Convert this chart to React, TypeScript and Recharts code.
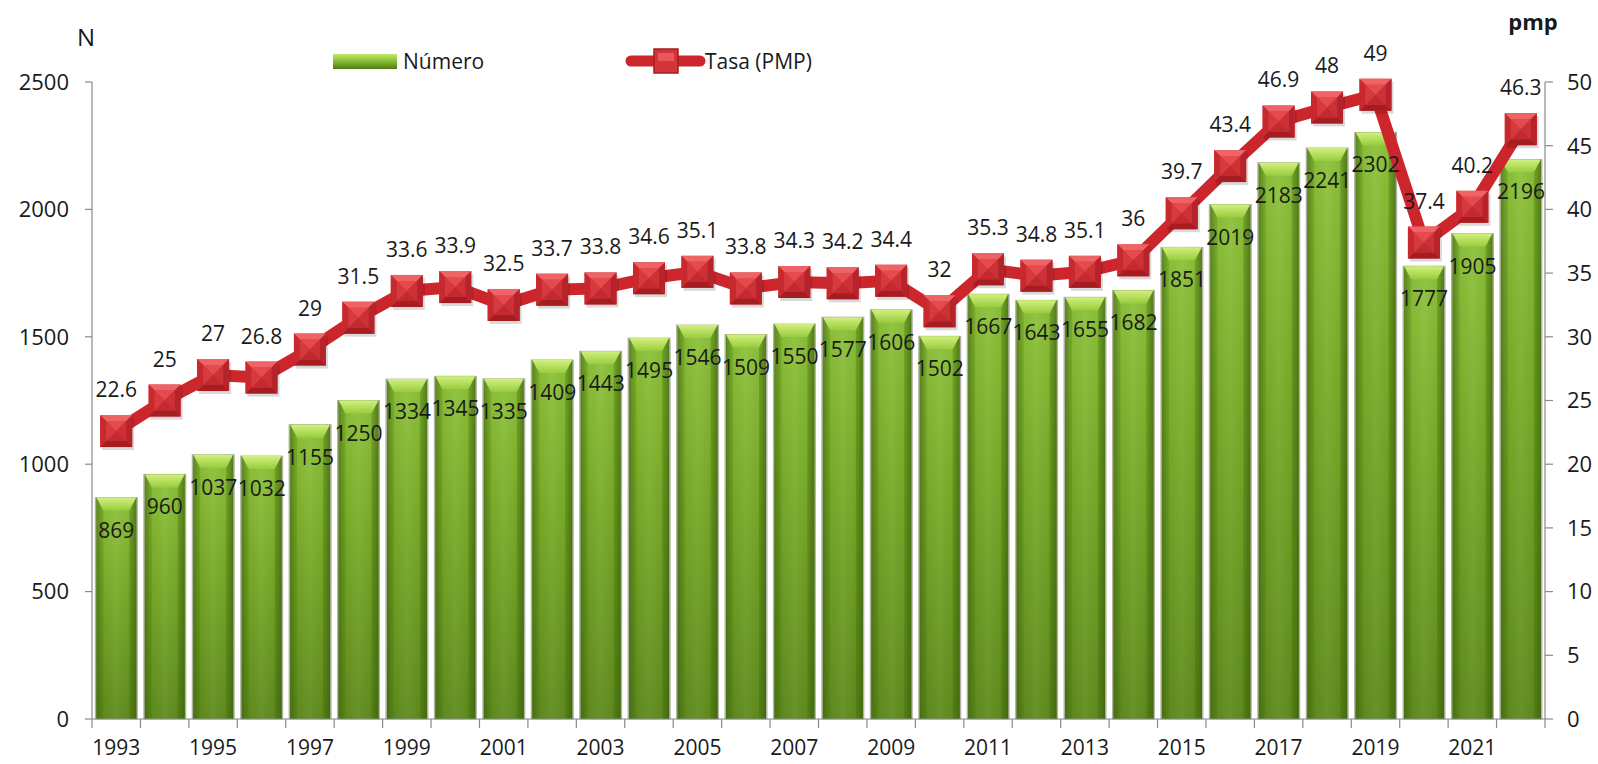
import React from 'react';
import { ComposedChart, Bar, Line, XAxis, YAxis, LabelList, Legend } from 'recharts';

const years: string[] = ['1993','1994','1995','1996','1997','1998','1999','2000','2001','2002','2003','2004','2005','2006','2007','2008','2009','2010','2011','2012','2013','2014','2015','2016','2017','2018','2019','2020','2021','2022'];
const numero: number[] = [869,960,1037,1032,1155,1250,1334,1345,1335,1409,1443,1495,1546,1509,1550,1577,1606,1502,1667,1643,1655,1682,1851,2019,2183,2241,2302,1777,1905,2196];
const tasa: number[] = [22.6,25,27,26.8,29,31.5,33.6,33.9,32.5,33.7,33.8,34.6,35.1,33.8,34.3,34.2,34.4,32,35.3,34.8,35.1,36,39.7,43.4,46.9,48,49,37.4,40.2,46.3];
const leftTicks: number[] = [0,500,1000,1500,2000,2500];
const rightTicks: number[] = [0,5,10,15,20,25,30,35,40,45,50];

const data = years.map((y, i) => ({ year: y, numero: numero[i], tasa: tasa[i] }));

const W = 1598;
const H = 764;
const LEFT_W = 92;
const RIGHT_W = 53;
const TOP = 82;
const BOTTOM = 45;
const PLOT_W = W - LEFT_W - RIGHT_W;
const BAND = PLOT_W / years.length;
const FONT = "'Open Sans', 'Noto Sans', sans-serif";
const TEXT = '#1a1a1a';
const AXIS = '#8a8a8a';

function YearTick(props: any) {
  const { x, y, payload } = props;
  const idx = years.indexOf(String(payload.value));
  const left = x - BAND / 2;
  return (
    <g>
      <line x1={left} x2={left} y1={y} y2={y + 9} stroke={AXIS} strokeWidth={1.2} />
      {idx === years.length - 1 && (
        <line x1={x + BAND / 2} x2={x + BAND / 2} y1={y} y2={y + 9} stroke={AXIS} strokeWidth={1.2} />
      )}
      {idx % 2 === 0 && (
        <text x={x} y={y + 36} textAnchor="middle" fontSize={21} fontFamily={FONT} fill={TEXT}>
          {payload.value}
        </text>
      )}
    </g>
  );
}

function BarShape(props: any) {
  const { x, y, width, height } = props;
  if (!height || height <= 0) return null;
  const cap = 13;
  const ins = 7;
  return (
    <g>
      <rect x={x - 1.5} y={y - 0.5} width={width + 3} height={height + 1} fill="#9a9e8c" opacity={0.8} />
      <rect x={x} y={y} width={width} height={height} fill="url(#barBodyV)" />
      <rect x={x} y={y} width={width} height={height} fill="url(#barBodyH)" />
      <polygon
        points={`${x},${y} ${x + width},${y} ${x + width - ins},${y + cap} ${x + ins},${y + cap}`}
        fill="url(#barTop)"
      />
      <polygon
        points={`${x},${y} ${x + ins},${y + cap} ${x + ins},${y + height} ${x},${y + height}`}
        fill="#3f6a0c"
        opacity={0.22}
      />
      <polygon
        points={`${x + width},${y} ${x + width - ins},${y + cap} ${x + width - ins},${y + height} ${x + width},${y + height}`}
        fill="#3a620a"
        opacity={0.32}
      />
    </g>
  );
}

function SquareDot(props: any) {
  const { cx, cy, index } = props;
  if (cx == null || cy == null) return null;
  const s = 16;
  const b = 6;
  const x0 = cx - s, x1 = cx + s, y0 = cy - s, y1 = cy + s;
  return (
    <g key={`dot-${index}`}>
      <rect x={x0 + 2} y={y0 + 3} width={2 * s} height={2 * s} fill="#000" opacity={0.15} />
      <rect x={x0} y={y0} width={2 * s} height={2 * s} fill="#d3343a" />
      <polygon points={`${x0},${y0} ${x1},${y0} ${x1 - b},${y0 + b} ${x0 + b},${y0 + b}`} fill="#ee6466" />
      <polygon points={`${x0},${y1} ${x1},${y1} ${x1 - b},${y1 - b} ${x0 + b},${y1 - b}`} fill="#a51c21" />
      <polygon points={`${x0},${y0} ${x0 + b},${y0 + b} ${x0 + b},${y1 - b} ${x0},${y1}`} fill="#c7292f" />
      <polygon points={`${x1},${y0} ${x1 - b},${y0 + b} ${x1 - b},${y1 - b} ${x1},${y1}`} fill="#b7232a" />
      <polygon points={`${x0 + b},${y0 + b} ${x1 - b},${y0 + b} ${cx},${cy}`} fill="#e54a4d" />
      <polygon points={`${x0 + b},${y1 - b} ${x1 - b},${y1 - b} ${cx},${cy}`} fill="#c22a2f" />
      <polygon points={`${x0 + b},${y0 + b} ${x0 + b},${y1 - b} ${cx},${cy}`} fill="#d63a3e" />
      <polygon points={`${x1 - b},${y0 + b} ${x1 - b},${y1 - b} ${cx},${cy}`} fill="#cc3136" />
    </g>
  );
}

function BarLabel(props: any) {
  const { x, y, width, value } = props;
  return (
    <text x={x + width / 2} y={y + 40} textAnchor="middle" fontSize={21} fontFamily={FONT} fill={TEXT}>
      {value}
    </text>
  );
}

function LineLabel(props: any) {
  const { x, y, value } = props;
  return (
    <text x={x} y={y - 34} textAnchor="middle" fontSize={21} fontFamily={FONT} fill={TEXT}>
      {value}
    </text>
  );
}

function LegendContent() {
  return (
    <svg width={W} height={40} style={{ display: 'block' }}>
      <defs>
        <linearGradient id="legBar" x1="0" y1="0" x2="0" y2="1">
          <stop offset="0%" stopColor="#c2ea6a" />
          <stop offset="45%" stopColor="#8cc03a" />
          <stop offset="100%" stopColor="#4f7a12" />
        </linearGradient>
      </defs>
      <rect x={333} y={13} width={64} height={15} fill="url(#legBar)" />
      <text x={403} y={28} fontSize={21} fontFamily={FONT} fill={TEXT}>Número</text>
      <line x1={631} x2={700} y1={20} y2={20} stroke="#cc262c" strokeWidth={11} strokeLinecap="round" />
      <rect x={654} y={8} width={24} height={24} fill="#d3343a" stroke="#a51c21" strokeWidth={1.5} />
      <rect x={658} y={12} width={16} height={8} fill="#e8585a" />
      <text x={705} y={28} fontSize={21} fontFamily={FONT} fill={TEXT}>Tasa (PMP)</text>
    </svg>
  );
}

export default function App() {
  return (
    <div style={{ position: 'absolute', left: 0, top: 0, width: W, height: H, background: '#fff' }}>
      <ComposedChart
        width={W}
        height={H}
        data={data}
        margin={{ top: TOP, right: 0, bottom: 5, left: 0 }}
        barCategoryGap="9%"
      >
        <defs>
          <linearGradient id="barBodyV" x1="0" y1="0" x2="0" y2="1">
            <stop offset="0%" stopColor="#8dc23a" />
            <stop offset="40%" stopColor="#79ab28" />
            <stop offset="100%" stopColor="#5e8a1c" />
          </linearGradient>
          <linearGradient id="barBodyH" x1="0" y1="0" x2="1" y2="0">
            <stop offset="0%" stopColor="#2f5206" stopOpacity={0.45} />
            <stop offset="15%" stopColor="#2f5206" stopOpacity={0.05} />
            <stop offset="50%" stopColor="#ffffff" stopOpacity={0.06} />
            <stop offset="85%" stopColor="#2f5206" stopOpacity={0.05} />
            <stop offset="100%" stopColor="#2f5206" stopOpacity={0.5} />
          </linearGradient>
          <linearGradient id="barTop" x1="0" y1="0" x2="0" y2="1">
            <stop offset="0%" stopColor="#d2f07e" />
            <stop offset="100%" stopColor="#98cc3e" />
          </linearGradient>
        </defs>
        <XAxis
          dataKey="year"
          interval={0}
          tickLine={false}
          tickSize={0}
          tickMargin={0}
          height={BOTTOM - 5}
          axisLine={{ stroke: AXIS, strokeWidth: 1.2 }}
          tick={<YearTick />}
        />
        <YAxis
          yAxisId="left"
          domain={[0, 2500]}
          ticks={leftTicks}
          width={LEFT_W}
          tickSize={7}
          tickMargin={16}
          axisLine={{ stroke: AXIS, strokeWidth: 1.2 }}
          tickLine={{ stroke: AXIS, strokeWidth: 1.2 }}
          tick={{ fontSize: 22, fontFamily: FONT, fill: TEXT }}
          label={{
            content: (p: any) => (
              <text
                x={p.viewBox.x + p.viewBox.width - 6}
                y={p.viewBox.y - 36}
                textAnchor="middle"
                fontSize={24}
                fontFamily={FONT}
                fill={TEXT}
              >
                N
              </text>
            ),
          }}
        />
        <YAxis
          yAxisId="right"
          orientation="right"
          domain={[0, 50]}
          ticks={rightTicks}
          width={RIGHT_W}
          tickSize={8}
          tickMargin={14}
          axisLine={{ stroke: AXIS, strokeWidth: 1.2 }}
          tickLine={{ stroke: AXIS, strokeWidth: 1.2 }}
          tick={{ fontSize: 22, fontFamily: FONT, fill: TEXT }}
          label={{
            content: (p: any) => (
              <text
                x={p.viewBox.x - 12}
                y={p.viewBox.y - 52}
                textAnchor="middle"
                fontSize={22}
                fontWeight="bold"
                fontFamily={FONT}
                fill={TEXT}
              >
                pmp
              </text>
            ),
          }}
        />
        <Legend
          layout="horizontal"
          verticalAlign="middle"
          align="center"
          wrapperStyle={{ top: 41, left: 0, width: W }}
          content={<LegendContent />}
        />
        <Bar
          yAxisId="left"
          dataKey="numero"
          name="Número"
          shape={<BarShape />}
          isAnimationActive={false}
        >
          <LabelList dataKey="numero" content={<BarLabel />} />
        </Bar>
        <Line
          yAxisId="right"
          dataKey="tasa"
          name="Tasa (PMP)"
          stroke="#cc262c"
          strokeWidth={12}
          dot={<SquareDot />}
          activeDot={false}
          isAnimationActive={false}
        >
          <LabelList dataKey="tasa" content={<LineLabel />} />
        </Line>
      </ComposedChart>
    </div>
  );
}
